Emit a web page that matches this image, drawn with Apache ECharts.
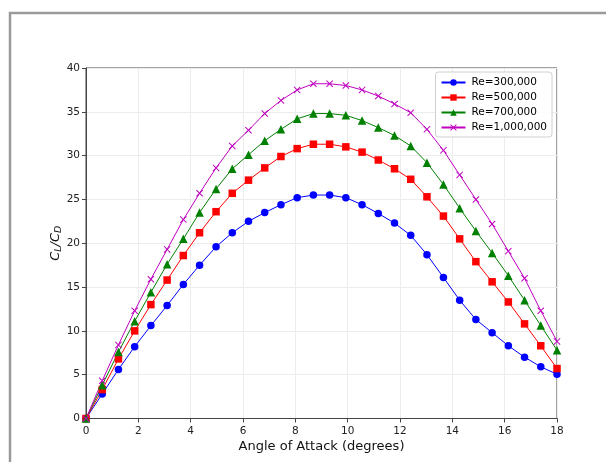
<!DOCTYPE html>
<html>
<head>
<meta charset="utf-8">
<script src="https://cdn.jsdelivr.net/npm/echarts@6/dist/echarts.min.js"></script>
<style>
  html, body { margin: 0; padding: 0; background: #fff; }
  #chart { width: 606px; height: 462px; }
</style>
</head>
<body>
<div id="chart"></div>
<script>
// Angle of attack samples (degrees)
const alpha = [0, 0.62, 1.24, 1.86, 2.48, 3.10, 3.72, 4.34, 4.97, 5.59, 6.21, 6.83, 7.45, 8.07, 8.69,
  9.31, 9.93, 10.55, 11.17, 11.79, 12.41, 13.03, 13.66, 14.28, 14.90, 15.52, 16.14, 16.76, 17.38, 18];

// Lift-to-drag ratio for each Reynolds number
const re300k = [0, 2.8, 5.6, 8.2, 10.6, 12.9, 15.3, 17.5, 19.6, 21.2, 22.5, 23.5, 24.4, 25.2, 25.5,
  25.5, 25.2, 24.4, 23.4, 22.3, 20.9, 18.7, 16.1, 13.5, 11.3, 9.8, 8.3, 7.0, 5.9, 5.05];
const re500k = [0, 3.3, 6.8, 10.0, 13.0, 15.8, 18.6, 21.2, 23.6, 25.7, 27.2, 28.6, 29.9, 30.8, 31.3,
  31.3, 31.0, 30.4, 29.5, 28.5, 27.3, 25.3, 23.1, 20.5, 17.9, 15.6, 13.3, 10.8, 8.3, 5.7];
const re700k = [0, 3.8, 7.6, 11.1, 14.4, 17.6, 20.5, 23.5, 26.2, 28.5, 30.1, 31.7, 33.0, 34.2, 34.8,
  34.8, 34.6, 34.0, 33.2, 32.3, 31.1, 29.2, 26.7, 24.0, 21.4, 18.9, 16.3, 13.5, 10.6, 7.8];
const re1000k = [0, 4.3, 8.4, 12.3, 15.9, 19.3, 22.7, 25.7, 28.6, 31.1, 32.9, 34.8, 36.3, 37.5, 38.2,
  38.2, 38.0, 37.5, 36.8, 35.9, 34.9, 33.0, 30.6, 27.8, 25.0, 22.2, 19.1, 16.0, 12.3, 8.8];

const seriesNames = ['Re=300,000', 'Re=500,000', 'Re=700,000', 'Re=1,000,000'];
const xTicks = [0, 2, 4, 6, 8, 10, 12, 14, 16, 18];
const yTicks = [0, 5, 10, 15, 20, 25, 30, 35, 40];

const FONT = '"DejaVu Sans", sans-serif';
// thin diagonal cross used as the 'x' marker
const crossPath = 'path://M1,0 L5,4 L9,0 L10,1 L6,5 L10,9 L9,10 L5,6 L1,10 L0,9 L4,5 L0,1 Z';

function pairs(ys) { return alpha.map((a, i) => [a, ys[i]]); }

function makeSeries(name, ys, color, symbol, size) {
  return {
    name: name,
    type: 'line',
    data: pairs(ys),
    symbol: symbol,
    symbolSize: size,
    showSymbol: true,
    showAllSymbol: true,
    lineStyle: { color: color, width: 1 },
    itemStyle: { color: color, borderWidth: 0 },
    emphasis: { disabled: true },
    animation: false,
    z: 3
  };
}

const chart = echarts.init(document.getElementById('chart'), null, { renderer: 'canvas' });

chart.setOption({
  backgroundColor: '#fff',
  animation: false,
  graphic: [{
    type: 'rect',
    shape: { x: 10, y: 13, width: 620, height: 470 },
    style: { fill: 'none', stroke: '#9a9a9a', lineWidth: 2.5 },
    silent: true,
    z: -10
  }],
  grid: { left: 86, top: 68, right: 49, bottom: 43.5, show: true, borderColor: '#444', borderWidth: 1 },
  legend: {
    data: seriesNames,
    orient: 'vertical',
    right: 54,
    top: 72,
    itemWidth: 24,
    itemHeight: 8,
    itemGap: 4,
    padding: [5, 5, 4, 5],
    backgroundColor: 'rgba(255,255,255,0.85)',
    borderColor: '#d0d0d0',
    borderWidth: 1,
    borderRadius: 3,
    textStyle: { fontFamily: FONT, fontSize: 10.5, color: '#000', padding: [0, 0, 0, 1] }
  },
  xAxis: {
    type: 'value',
    min: 0, max: 18, interval: 2,
    name: 'Angle of Attack (degrees)',
    nameLocation: 'middle',
    nameGap: 22,
    nameMoveOverlap: false,
    nameTextStyle: { fontFamily: FONT, fontSize: 13, color: '#111' },
    axisLine: { onZero: false, lineStyle: { color: '#444', width: 1 } },
    axisTick: { show: true, length: 4, inside: false, lineStyle: { color: '#444' } },
    axisLabel: {
      fontFamily: FONT, fontSize: 10.5, color: '#222', margin: 7,
      formatter: v => (xTicks.indexOf(v) >= 0 ? String(v) : '')
    },
    splitLine: { show: true, lineStyle: { color: '#ececec', width: 1 } }
  },
  yAxis: {
    type: 'value',
    min: 0, max: 40, interval: 5,
    name: '{c|C}{s|L}{c|/C}{s|D}',
    nameLocation: 'middle',
    nameGap: 30,
    nameMoveOverlap: false,
    nameRotate: 90,
    nameTextStyle: {
      verticalAlign: 'middle',
      rich: {
        c: { fontFamily: FONT, fontSize: 13, fontStyle: 'italic', color: '#111' },
        s: { fontFamily: FONT, fontSize: 9.5, fontStyle: 'italic', color: '#111', padding: [6, 0, 0, 0] }
      }
    },
    axisLine: { onZero: false, lineStyle: { color: '#444', width: 1 } },
    axisTick: { show: true, length: 4, inside: false, lineStyle: { color: '#444' } },
    axisLabel: {
      fontFamily: FONT, fontSize: 10.5, color: '#222', margin: 6,
      formatter: v => (yTicks.indexOf(v) >= 0 ? String(v) : '')
    },
    splitLine: { show: true, lineStyle: { color: '#ececec', width: 1 } }
  },
  series: [
    makeSeries(seriesNames[0], re300k, '#0000ff', 'circle', 7.5),
    makeSeries(seriesNames[1], re500k, '#ff0000', 'rect', 7.5),
    makeSeries(seriesNames[2], re700k, '#008000', 'triangle', 8.5),
    makeSeries(seriesNames[3], re1000k, '#bf00bf', crossPath, 7)
  ]
});
</script>
</body>
</html>
